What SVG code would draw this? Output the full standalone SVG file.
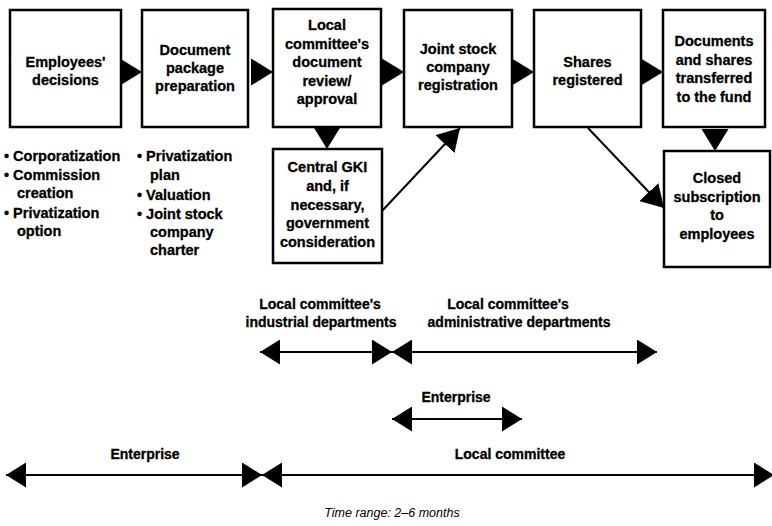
<svg xmlns="http://www.w3.org/2000/svg" width="772" height="526" viewBox="0 0 772 526">
  <style>
    .box { fill: #fff; stroke: #000; stroke-width: 2.5; }
    .t { font-family: "Liberation Sans", Arial, sans-serif; font-weight: bold; font-size: 14.5px; fill: #000; stroke: #000; stroke-width: 0.3; text-anchor: middle; }
    .b { font-family: "Liberation Sans", Arial, sans-serif; font-weight: bold; font-size: 14.5px; fill: #000; stroke: #000; stroke-width: 0.3; }
    .tl { font-family: "Liberation Sans", Arial, sans-serif; font-weight: bold; font-size: 14px; fill: #000; stroke: #000; stroke-width: 0.3; text-anchor: middle; }
    .cap { font-family: "Liberation Sans", Arial, sans-serif; font-style: italic; font-size: 12.5px; fill: #000; text-anchor: middle; }
    .ln { stroke: #000; stroke-width: 2; fill: none; }
  </style>
  <defs>
    <!-- solid arrowhead, tip at origin, pointing right -->
    <path id="head" d="M0,0 L-22,-13.5 L-22,13.5 Z" fill="#000"/>
    <marker id="tip" markerUnits="userSpaceOnUse" viewBox="0 0 22 26" refX="22" refY="13" markerWidth="22" markerHeight="26" orient="auto-start-reverse">
      <path d="M0,0 L22,13 L0,26 Z" fill="#000"/>
    </marker>
    <marker id="span" markerUnits="userSpaceOnUse" viewBox="0 0 20 25" refX="20" refY="12.5" markerWidth="20" markerHeight="25" orient="auto-start-reverse">
      <path d="M0,0 L20,12.5 L0,25 Z" fill="#000"/>
    </marker>
  </defs>

  <rect width="772" height="526" fill="#fff"/>

  <!-- process steps -->
  <g id="employees-decisions">
    <rect class="box" x="10" y="10" width="111" height="117"/>
    <text class="t" x="65.5" y="67">Employees'</text>
    <text class="t" x="65.5" y="85">decisions</text>
  </g>
  <g id="document-package">
    <rect class="box" x="142" y="10" width="106" height="117"/>
    <text class="t" x="195" y="55">Document</text>
    <text class="t" x="195" y="73">package</text>
    <text class="t" x="195" y="91">preparation</text>
  </g>
  <g id="local-review">
    <rect class="box" x="273" y="9" width="108" height="118"/>
    <text class="t" x="327" y="30">Local</text>
    <text class="t" x="327" y="48.5">committee's</text>
    <text class="t" x="327" y="67">document</text>
    <text class="t" x="327" y="85.5">review/</text>
    <text class="t" x="327" y="104">approval</text>
  </g>
  <g id="jsc-registration">
    <rect class="box" x="404" y="10" width="108" height="117"/>
    <text class="t" x="458" y="54">Joint stock</text>
    <text class="t" x="458" y="72">company</text>
    <text class="t" x="458" y="90">registration</text>
  </g>
  <g id="shares-registered">
    <rect class="box" x="534" y="10" width="107" height="117"/>
    <text class="t" x="587.5" y="67">Shares</text>
    <text class="t" x="587.5" y="85">registered</text>
  </g>
  <g id="transfer-to-fund">
    <rect class="box" x="663" y="10" width="102" height="117"/>
    <text class="t" x="714" y="46">Documents</text>
    <text class="t" x="714" y="64.5">and shares</text>
    <text class="t" x="714" y="83">transferred</text>
    <text class="t" x="714" y="101.5">to the fund</text>
  </g>
  <g id="central-gki">
    <rect class="box" x="273" y="149" width="109" height="114"/>
    <text class="t" x="327.5" y="172">Central GKI</text>
    <text class="t" x="327.5" y="190.5">and, if</text>
    <text class="t" x="327.5" y="209.5">necessary,</text>
    <text class="t" x="327.5" y="228">government</text>
    <text class="t" x="327.5" y="246.5">consideration</text>
  </g>
  <g id="closed-subscription">
    <rect class="box" x="664" y="151" width="106" height="116"/>
    <text class="t" x="717" y="183">Closed</text>
    <text class="t" x="717" y="201.5">subscription</text>
    <text class="t" x="717" y="220">to</text>
    <text class="t" x="717" y="238.5">employees</text>
  </g>

  <!-- step details -->
  <g id="decision-items">
    <text class="b" x="4" y="161">• Corporatization</text>
    <text class="b" x="4" y="180">• Commission</text>
    <text class="b" x="17" y="198">creation</text>
    <text class="b" x="4" y="218">• Privatization</text>
    <text class="b" x="17" y="236">option</text>
  </g>
  <g id="package-items">
    <text class="b" x="137" y="161">• Privatization</text>
    <text class="b" x="150" y="180">plan</text>
    <text class="b" x="137" y="200">• Valuation</text>
    <text class="b" x="137" y="219">• Joint stock</text>
    <text class="b" x="150" y="237">company</text>
    <text class="b" x="150" y="255">charter</text>
  </g>

  <!-- flow connectors -->
  <g id="connectors">
    <use href="#head" transform="translate(142,72)"/>
    <use href="#head" transform="translate(273,72)"/>
    <use href="#head" transform="translate(404,72)"/>
    <use href="#head" transform="translate(534,72)"/>
    <use href="#head" transform="translate(663,72)"/>
    <use href="#head" transform="translate(327,149) rotate(90)"/>
    <use href="#head" transform="translate(715,151) rotate(90)"/>
    <line class="ln" x1="382" y1="211" x2="460" y2="128" marker-end="url(#tip)"/>
    <line class="ln" x1="588" y1="128" x2="664" y2="208" marker-end="url(#tip)"/>
  </g>

  <!-- responsibility timeline -->
  <g id="timeline">
    <text class="tl" x="320" y="309">Local committee's</text>
    <text class="tl" x="321" y="327">industrial departments</text>
    <text class="tl" x="508" y="309">Local committee's</text>
    <text class="tl" x="519" y="327">administrative departments</text>
    <line class="ln" x1="260" y1="352" x2="392" y2="352" marker-start="url(#span)" marker-end="url(#span)"/>
    <line class="ln" x1="392" y1="352" x2="657" y2="352" marker-start="url(#span)" marker-end="url(#span)"/>

    <text class="tl" x="456" y="402">Enterprise</text>
    <line class="ln" x1="392" y1="419" x2="522" y2="419" marker-start="url(#span)" marker-end="url(#span)"/>

    <text class="tl" x="145" y="459">Enterprise</text>
    <text class="tl" x="510" y="459">Local committee</text>
    <line class="ln" x1="6" y1="475" x2="262" y2="475" marker-start="url(#span)" marker-end="url(#span)"/>
    <line class="ln" x1="262" y1="475" x2="774" y2="475" marker-start="url(#span)" marker-end="url(#span)"/>

    <text class="cap" x="392" y="517">Time range: 2–6 months</text>
  </g>
</svg>
